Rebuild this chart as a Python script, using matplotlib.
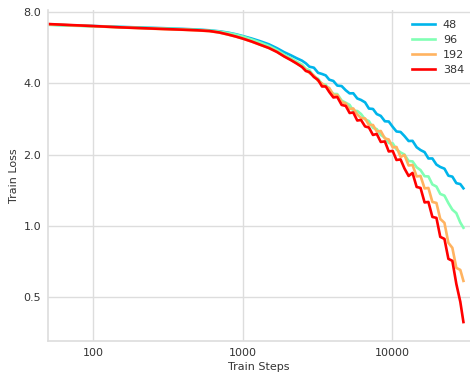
import matplotlib
matplotlib.use("Agg")
import matplotlib.pyplot as plt
import numpy as np
from matplotlib.ticker import FixedLocator, FixedFormatter, NullLocator

steps = [50, 70, 100, 150, 200, 300, 400, 500, 600, 700, 800, 900, 1000, 1150, 1300,
         1500, 1700, 1900, 2100, 2300, 2500,
         2650, 2800, 3000, 3200, 3400, 3600, 3800, 4050, 4300, 4600, 4900, 5200, 5500,
         5850, 6200, 6600, 7000, 7450, 7900, 8400, 8950, 9500, 10100, 10700, 11400,
         12100, 12900, 13700, 14600, 15500, 16500, 17500, 18600, 19800, 21000, 22400,
         23800, 25300, 26900, 28600, 30000]

loss_48 = [7.085, 7.030, 6.983, 6.928, 6.888, 6.835, 6.788, 6.749, 6.697, 6.632, 6.549,
           6.448, 6.337, 6.184, 6.035, 5.845, 5.627, 5.413, 5.257, 5.106, 4.983,
           4.858, 4.701, 4.655, 4.430, 4.379, 4.319, 4.143, 4.091, 3.912, 3.893, 3.737,
           3.626, 3.630, 3.451, 3.401, 3.322, 3.128, 3.116, 2.965, 2.913, 2.764, 2.758,
           2.617, 2.503, 2.491, 2.394, 2.281, 2.285, 2.147, 2.089, 2.047, 1.925, 1.925,
           1.814, 1.772, 1.743, 1.628, 1.613, 1.514, 1.500, 1.440]

loss_96 = [7.065, 7.010, 6.962, 6.908, 6.868, 6.815, 6.768, 6.730, 6.678, 6.613, 6.524,
           6.423, 6.306, 6.125, 5.959, 5.749, 5.519, 5.283, 5.106, 4.935, 4.793,
           4.606, 4.543, 4.286, 4.179, 3.974, 3.939, 3.777, 3.605, 3.602, 3.381, 3.310,
           3.243, 3.061, 3.055, 2.967, 2.816, 2.769, 2.590, 2.562, 2.422, 2.355, 2.239,
           2.230, 2.102, 2.041, 2.000, 1.877, 1.871, 1.767, 1.719, 1.620, 1.616, 1.495,
           1.465, 1.363, 1.341, 1.247, 1.170, 1.131, 1.032, 0.981]

loss_192 = [7.110, 7.040, 6.970, 6.890, 6.840, 6.770, 6.730, 6.690, 6.640, 6.550, 6.420,
            6.300, 6.180, 6.000, 5.830, 5.640, 5.430, 5.200, 5.030, 4.860, 4.700,
            4.552, 4.421, 4.315, 4.091, 3.993, 3.859, 3.822, 3.570, 3.570, 3.335, 3.287,
            3.116, 3.131, 2.953, 2.854, 2.840, 2.666, 2.666, 2.503, 2.515, 2.339, 2.316,
            2.143, 2.153, 1.953, 1.992, 1.798, 1.807, 1.616, 1.624, 1.438, 1.445, 1.261,
            1.249, 1.069, 1.029, 0.847, 0.807, 0.664, 0.651, 0.585]

loss_384 = [7.120, 7.051, 6.983, 6.895, 6.848, 6.782, 6.737, 6.697, 6.652, 6.556, 6.430,
            6.306, 6.184, 6.006, 5.833, 5.638, 5.423, 5.192, 5.017, 4.849, 4.687,
            4.508, 4.464, 4.252, 4.131, 3.878, 3.878, 3.676, 3.485, 3.501, 3.240, 3.209,
            2.996, 3.011, 2.785, 2.799, 2.628, 2.602, 2.420, 2.443, 2.261, 2.272, 2.061,
            2.071, 1.897, 1.907, 1.747, 1.624, 1.672, 1.459, 1.445, 1.255, 1.261, 1.090,
            1.080, 0.898, 0.880, 0.725, 0.711, 0.568, 0.477, 0.392]

series_labels = ["48", "96", "192", "384"]
series = [loss_48, loss_96, loss_192, loss_384]
y_ticks = [0.5, 1.0, 2.0, 4.0, 8.0]
y_tick_labels = ["0.5", "1.0", "2.0", "4.0", "8.0"]
x_ticks = [100, 1000, 10000]
x_tick_labels = ["100", "1000", "10000"]

colors = plt.cm.rainbow(np.linspace(0, 1, 5))[1:]

fig = plt.figure(figsize=(4.70, 3.73), dpi=100)
ax = fig.add_axes([48/470, 1 - 341/373, 1 - 48/470, (341 - 10)/373])

for lab, ys, c in zip(series_labels, series, colors):
    ax.plot(steps, ys, color=c, lw=1.9, label=lab)

ax.set_xscale("log")
ax.set_yscale("log", base=2)
ax.set_xlim(50, 33200)
ax.set_ylim(0.326, 8.16)

ax.xaxis.set_major_locator(FixedLocator(x_ticks))
ax.xaxis.set_major_formatter(FixedFormatter(x_tick_labels))
ax.xaxis.set_minor_locator(NullLocator())
ax.yaxis.set_major_locator(FixedLocator(y_ticks))
ax.yaxis.set_major_formatter(FixedFormatter(y_tick_labels))
ax.yaxis.set_minor_locator(NullLocator())

ax.grid(True, color="#dddddd", lw=1.0)
ax.set_axisbelow(True)
for s in ax.spines.values():
    s.set_color("#dddddd")
    s.set_linewidth(1.2)
ax.spines["right"].set_visible(False)
ax.spines["top"].set_visible(False)
ax.tick_params(axis="both", length=0, labelsize=8, labelcolor="#333333")
ax.tick_params(axis="x", pad=5)
ax.tick_params(axis="y", pad=5)

ax.set_xlabel("Train Steps", fontsize=8, color="#333333", labelpad=3)
ax.set_ylabel("Train Loss", fontsize=8, color="#333333", labelpad=3)

leg = ax.legend(loc="upper right", bbox_to_anchor=(1.007, 0.997), frameon=False,
                fontsize=8, handlelength=2.1, handletextpad=0.7, labelspacing=0.45,
                borderaxespad=0.4, borderpad=0.4)
for t in leg.get_texts():
    t.set_color("#333333")

fig.savefig("out.png", dpi=100)
